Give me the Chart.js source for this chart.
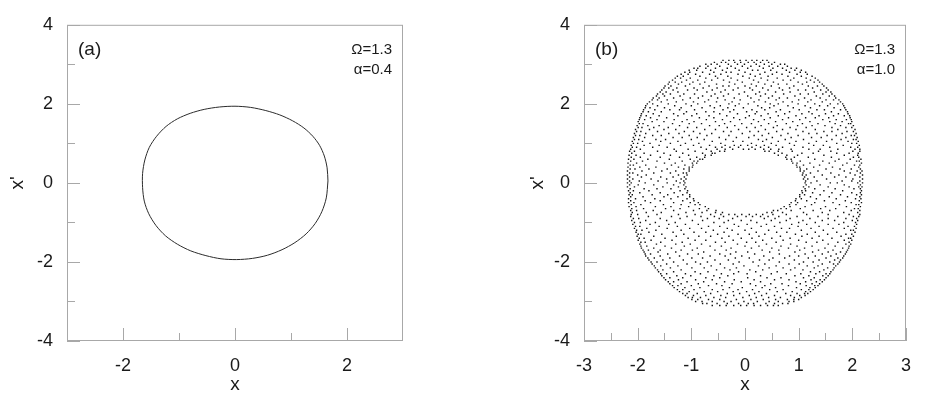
<!DOCTYPE html>
<html>
<head>
<meta charset="utf-8">
<script src="https://cdn.jsdelivr.net/npm/chart.js@4.4.0/dist/chart.umd.min.js"></script>
<style>
  body { margin: 0; background: #fff; width: 925px; height: 403px; position: relative; overflow: hidden; }
  #ca { position: absolute; left: 0; top: 0; }
  #cb { position: absolute; left: 520px; top: 0; }
</style>
</head>
<body>
<canvas id="ca" width="460" height="403"></canvas>
<canvas id="cb" width="405" height="403"></canvas>
<script>
// axis ticks
const yTicks = [-4, -2, 0, 2, 4];
const yMinor = [-3, -1, 1, 3];
const aXTicks = [-2, 0, 2];
const aXMinor = [-1, 1];
const bXTicks = [-3, -2, -1, 0, 1, 2, 3];
const bXMinor = [-2.5, -1.5, -0.5, 0.5, 1.5, 2.5];

// panel (a): limit cycle
const cycleX = [1.66, 1.645, 1.595, 1.51, 1.39, 1.23, 1.03, 0.80, 0.55, 0.28, 0.00, -0.28, -0.55, -0.80, -1.03, -1.23, -1.40, -1.53, -1.61, -1.65,
  -1.65, -1.62, -1.54, -1.41, -1.24, -1.03, -0.79, -0.52, -0.25, 0.03, 0.31, 0.58, 0.84, 1.07, 1.27, 1.43, 1.55, 1.63, 1.66];
const cycleY = [0.05, 0.38, 0.68, 0.95, 1.18, 1.39, 1.57, 1.72, 1.83, 1.91, 1.94, 1.92, 1.86, 1.76, 1.62, 1.43, 1.18, 0.90, 0.58, 0.24,
  -0.12, -0.46, -0.78, -1.08, -1.34, -1.55, -1.72, -1.84, -1.92, -1.94, -1.91, -1.83, -1.69, -1.51, -1.29, -1.03, -0.73, -0.38, 0.05];

// panel (b): torus section dots, one row per x' level: [x', [x ...]]
const torusTop = [
  [3.10, [-0.41, -0.30, -0.21, -0.09, 0.02, 0.13, 0.22, 0.33, 0.41]],
  [3.05, [-0.57, -0.44, -0.36, -0.19, -0.08, 0.06, 0.17, 0.29, 0.44, 0.55]],
  [3.00, [-0.73, -0.63, -0.52, -0.31, -0.14, -0.01, 0.21, 0.36, 0.50, 0.66, 0.74]],
  [2.95, [-0.84, -0.69, -0.47, -0.26, -0.05, 0.11, 0.27, 0.45, 0.61, 0.79]],
  [2.90, [-0.95, -0.88, -0.73, -0.55, -0.33, -0.18, 0.05, 0.34, 0.52, 0.70, 0.86, 0.96]],
  [2.85, [-1.04, -0.90, -0.64, -0.42, -0.11, 0.14, 0.24, 0.48, 0.77, 0.93, 1.05]],
  [2.80, [-1.12, -1.03, -0.79, -0.58, -0.35, -0.26, 0.00, 0.37, 0.59, 0.83, 1.03, 1.13]],
  [2.75, [-1.19, -1.06, -0.92, -0.66, -0.45, -0.13, 0.10, 0.28, 0.51, 0.69, 0.97, 1.16]],
  [2.70, [-1.26, -1.15, -0.84, -0.55, -0.32, -0.04, 0.19, 0.43, 0.80, 1.05, 1.25]],
  [2.65, [-1.30, -1.20, -1.02, -0.73, -0.51, -0.26, 0.08, 0.30, 0.60, 0.91, 1.14, 1.31]],
  [2.60, [-1.35, -1.09, -0.88, -0.62, -0.40, -0.14, 0.16, 0.42, 0.71, 0.85, 1.22, 1.36]],
  [2.55, [-1.41, -1.30, -1.18, -0.97, -0.75, -0.29, -0.05, 0.25, 0.53, 0.99, 1.15, 1.29, 1.39]],
  [2.50, [-1.43, -1.24, -1.03, -0.84, -0.53, -0.19, 0.12, 0.37, 0.62, 0.78, 1.07, 1.44]],
  [2.45, [-1.49, -1.38, -1.11, -0.67, -0.41, -0.30, 0.00, 0.21, 0.49, 0.91, 1.18, 1.35, 1.47]],
  [2.40, [-1.51, -1.42, -1.27, -0.95, -0.78, -0.52, -0.13, 0.09, 0.33, 0.64, 0.83, 1.26, 1.52]],
  [2.35, [-1.55, -1.34, -1.07, -0.89, -0.61, -0.37, -0.22, 0.14, 0.43, 0.70, 0.99, 1.13, 1.41, 1.55]],
  [2.30, [-1.58, -1.47, -1.25, -0.71, -0.45, -0.01, 0.27, 0.57, 0.84, 1.29, 1.51, 1.60]],
  [2.25, [-1.63, -1.53, -1.39, -1.14, -0.94, -0.56, -0.31, -0.11, 0.20, 0.38, 0.72, 1.03, 1.18, 1.45, 1.62]],
  [2.20, [-1.65, -1.50, -1.21, -0.79, -0.63, -0.40, 0.05, 0.29, 0.51, 0.93, 1.33, 1.57, 1.67]],
  [2.15, [-1.71, -1.60, -1.33, -1.02, -0.87, -0.51, -0.20, 0.11, 0.44, 0.64, 0.79, 1.11, 1.40, 1.69]],
  [2.10, [-1.73, -1.63, -1.45, -1.16, -0.68, -0.37, -0.09, 0.26, 0.58, 1.00, 1.23, 1.51, 1.65, 1.75]],
  [2.05, [-1.78, -1.56, -1.28, -0.96, -0.75, -0.53, -0.24, 0.17, 0.38, 0.71, 0.88, 1.17, 1.44, 1.78]],
  [2.00, [-1.82, -1.72, -1.43, -1.10, -0.88, -0.30, -0.11, 0.06, 0.47, 0.62, 0.99, 1.30, 1.59, 1.73, 1.82]],
  [1.95, [-1.85, -1.63, -1.31, -1.00, -0.65, -0.46, -0.18, 0.24, 0.54, 0.80, 1.12, 1.39, 1.54, 1.84]],
  [1.90, [-1.86, -1.77, -1.50, -1.19, -0.80, -0.57, -0.32, -0.03, 0.31, 0.46, 0.90, 1.22, 1.66, 1.86]],
  [1.85, [-1.89, -1.68, -1.40, -1.22, -0.94, -0.41, -0.21, 0.13, 0.37, 0.66, 1.01, 1.34, 1.48, 1.78, 1.88]],
  [1.80, [-1.90, -1.80, -1.56, -1.09, -0.73, -0.58, -0.28, 0.03, 0.22, 0.58, 0.83, 1.19, 1.61, 1.91]],
  [1.75, [-1.93, -1.71, -1.33, -1.14, -0.90, -0.47, -0.14, 0.19, 0.43, 0.74, 1.06, 1.25, 1.50, 1.74, 1.92]],
  [1.70, [-1.94, -1.84, -1.60, -1.25, -0.99, -0.67, -0.34, 0.08, 0.30, 0.62, 0.95, 1.38, 1.65, 1.85, 1.95]],
  [1.65, [-1.96, -1.76, -1.46, -0.85, -0.58, -0.21, 0.01, 0.47, 0.81, 1.13, 1.31, 1.56, 1.96]],
  [1.60, [-1.97, -1.87, -1.64, -1.32, -1.08, -0.72, -0.42, -0.10, 0.16, 0.36, 0.70, 1.02, 1.45, 1.70, 1.89, 1.98]],
  [1.55, [-1.99, -1.73, -1.51, -1.17, -0.95, -0.55, -0.27, 0.25, 0.57, 0.89, 1.21, 1.58, 1.81, 1.99]],
  [1.50, [-1.97, -1.90, -1.35, -1.04, -0.81, -0.38, -0.06, 0.12, 0.44, 0.77, 1.07, 1.36, 1.68, 1.93, 1.97]],
  [1.45, [-2.01, -1.81, -1.60, -1.22, -0.66, -0.48, -0.19, 0.30, 0.60, 0.98, 1.25, 1.49, 1.78, 2.02]],
  [1.40, [-1.99, -1.92, -1.70, -1.43, -1.07, -0.90, -0.33, 0.03, 0.19, 0.53, 0.84, 1.14, 1.62, 1.88, 1.99]],
  [1.35, [-2.04, -1.78, -1.51, -1.29, -0.75, -0.55, -0.12, 0.38, 0.70, 0.95, 1.31, 1.73, 2.05]],
  [1.30, [-2.02, -1.94, -1.63, -1.13, -0.96, -0.40, -0.26, 0.09, 0.25, 0.59, 1.08, 1.47, 1.62, 1.90, 2.02]],
  [1.25, [-2.06, -1.85, -1.42, -1.23, -0.84, -0.62, -0.05, 0.44, 0.80, 1.19, 1.34, 1.81, 2.07]],
  [1.20, [-2.04, -1.96, -1.72, -1.56, -1.04, -0.71, -0.30, 0.17, 0.32, 0.67, 0.99, 1.53, 1.70, 1.98, 2.04]],
  [1.15, [-2.08, -1.87, -1.34, -1.17, -0.89, -0.48, -0.16, 0.07, 0.51, 0.86, 1.24, 1.42, 1.88, 2.09]],
  [1.10, [-2.06, -1.98, -1.66, -1.48, -1.00, -0.76, -0.36, 0.25, 0.40, 0.75, 1.09, 1.62, 1.79, 2.02, 2.07]],
  [1.05, [-2.10, -1.91, -1.57, -1.25, -0.61, -0.22, -0.04, 0.33, 0.62, 0.95, 1.33, 1.52, 1.92, 2.11]],
  [1.00, [-2.08, -2.00, -1.77, -1.39, -1.11, -0.86, -0.45, 0.12, 0.49, 0.83, 1.19, 1.71, 1.99, 2.08]],
  [0.95, [-2.12, -1.88, -1.60, -1.20, -0.96, -0.66, -0.37, -0.20, -0.08, 0.05, 0.21, 0.36, 0.58, 0.92, 1.28, 1.46, 1.83, 2.13]],
  [0.90, [-2.10, -2.02, -1.72, -1.45, -0.82, -0.55, -0.43, -0.28, -0.12, 0.13, 0.29, 0.44, 0.70, 1.08, 1.58, 1.97, 2.10]],
  [0.85, [-2.13, -1.95, -1.32, -1.06, -0.72, -0.52, -0.37, -0.23, -0.03, 0.07, 0.19, 0.35, 0.48, 0.63, 0.86, 1.19, 1.40, 1.73, 2.05, 2.14]]
];
const torusBand = [
  [0.80, [-2.15, -2.06, -1.63, -1.28, -0.93, -0.63, -0.47, -0.38, 0.37, 0.45, 0.62, 0.88, 1.37, 1.60, 2.01, 2.14]],
  [0.75, [-2.11, -1.88, -1.51, -1.16, -0.79, -0.61, -0.56, 0.55, 0.69, 1.06, 1.27, 1.71, 1.94, 2.11]],
  [0.70, [-2.16, -2.03, -1.76, -1.39, -1.05, -0.74, -0.63, 0.62, 0.78, 0.98, 1.47, 1.85, 2.10]],
  [0.65, [-2.12, -1.95, -1.58, -1.22, -0.90, -0.75, 0.76, 0.92, 1.18, 1.61, 2.02, 2.12]],
  [0.60, [-2.17, -2.07, -1.81, -1.41, -1.02, -0.84, -0.79, 0.78, 0.86, 1.30, 1.75, 1.96, 2.16]],
  [0.55, [-2.13, -1.91, -1.64, -1.17, -0.95, -0.88, 0.87, 1.03, 1.45, 1.68, 2.08, 2.13]],
  [0.50, [-2.18, -2.02, -1.50, -1.30, -0.98, -0.90, 0.89, 0.97, 1.21, 1.57, 1.90, 2.17]],
  [0.45, [-2.14, -2.08, -1.85, -1.37, -1.12, -0.97, 0.96, 1.09, 1.39, 1.82, 2.04, 2.14]],
  [0.40, [-2.18, -1.96, -1.66, -1.24, -1.04, -0.98, 0.97, 1.02, 1.28, 1.63, 2.12]],
  [0.35, [-2.14, -2.05, -1.79, -1.45, -1.14, -1.04, 1.03, 1.15, 1.51, 1.77, 1.98, 2.15]],
  [0.30, [-2.19, -1.92, -1.55, -1.29, -1.04, 1.03, 1.10, 1.36, 1.85, 2.09, 2.18]],
  [0.25, [-2.15, -2.09, -1.70, -1.39, -1.15, -1.09, 1.08, 1.22, 1.60, 1.96, 2.15]],
  [0.20, [-2.19, -2.00, -1.84, -1.24, -1.08, 1.07, 1.14, 1.44, 1.75, 2.05, 2.19]],
  [0.15, [-2.15, -1.93, -1.57, -1.34, -1.13, 1.11, 1.29, 1.67, 1.88, 2.14]],
  [0.10, [-2.19, -2.09, -1.75, -1.46, -1.19, -1.10, 1.09, 1.17, 1.52, 2.01, 2.19]],
  [0.05, [-2.15, -1.97, -1.62, -1.28, -1.14, 1.13, 1.34, 1.81, 1.99, 2.14]],
  [0.00, [-2.19, -2.12, -1.86, -1.45, -1.21, -1.12, 1.12, 1.23, 1.59, 1.72, 2.10, 2.19]],
  [-0.05, [-2.15, -1.99, -1.70, -1.33, -1.14, 1.14, 1.40, 1.85, 2.15]],
  [-0.10, [-2.19, -2.06, -1.53, -1.24, -1.10, 1.09, 1.19, 1.55, 1.94, 2.12, 2.18]],
  [-0.15, [-2.14, -1.88, -1.64, -1.38, -1.12, 1.12, 1.30, 1.68, 2.03, 2.15]],
  [-0.20, [-2.17, -2.08, -1.79, -1.21, -1.07, 1.06, 1.13, 1.47, 1.82, 2.17]],
  [-0.25, [-2.14, -1.96, -1.58, -1.32, -1.08, 1.07, 1.26, 1.62, 1.99, 2.15]],
  [-0.30, [-2.16, -2.10, -1.73, -1.44, -1.16, -1.03, 1.02, 1.11, 1.40, 1.78, 2.08, 2.17]],
  [-0.35, [-2.13, -1.90, -1.51, -1.25, -1.03, 1.02, 1.22, 1.57, 1.91, 2.14]],
  [-0.40, [-2.17, -2.04, -1.68, -1.38, -1.08, -0.96, 0.95, 1.05, 1.33, 1.70, 2.06, 2.16]],
  [-0.45, [-2.13, -1.86, -1.58, -1.16, -0.95, 0.94, 1.15, 1.48, 1.87, 2.13]],
  [-0.50, [-2.17, -2.07, -1.76, -1.33, -1.02, -0.87, 0.86, 0.98, 1.30, 1.64, 1.98, 2.17]],
  [-0.55, [-2.12, -1.94, -1.52, -1.19, -0.93, -0.84, 0.83, 0.95, 1.24, 1.76, 2.07, 2.12]],
  [-0.60, [-2.16, -2.03, -1.67, -1.38, -1.05, -0.74, 0.73, 0.84, 1.12, 1.50, 1.89, 2.15]],
  [-0.65, [-2.11, -1.89, -1.48, -1.21, -0.85, -0.68, 0.67, 0.77, 1.03, 1.41, 1.69, 2.04, 2.11]],
  [-0.70, [-2.13, -2.02, -1.71, -1.33, -0.96, -0.71, -0.54, 0.53, 0.61, 0.86, 1.27, 1.58, 1.98, 2.14]],
  [-0.75, [-2.10, -1.84, -1.56, -1.10, -0.80, -0.55, -0.42, 0.41, 0.50, 0.70, 1.09, 1.44, 1.84, 2.10]],
  [-0.80, [-2.12, -2.00, -1.64, -1.24, -0.93, -0.64, -0.45, -0.30, -0.19, -0.06, 0.08, 0.21, 0.33, 0.52, 0.77, 1.15, 1.55, 1.94, 2.14]]
];
const torusBottom = [
  [-0.85, [-2.13, -1.80, -1.37, -1.08, -0.82, -0.57, -0.40, -0.14, 0.02, 0.14, 0.29, 0.43, 0.63, 0.97, 1.36, 1.73, 2.02, 2.12]],
  [-0.90, [-2.08, -1.98, -1.58, -1.21, -0.70, -0.48, -0.23, 0.36, 0.56, 0.84, 1.21, 1.55, 1.88, 2.08]],
  [-0.95, [-2.11, -1.85, -1.46, -0.98, -0.79, -0.31, -0.07, 0.11, 0.49, 0.77, 1.08, 1.44, 1.67, 2.00, 2.10]],
  [-1.00, [-2.06, -1.95, -1.67, -1.30, -0.58, -0.39, 0.22, 0.65, 1.00, 1.31, 1.84, 2.06]],
  [-1.05, [-2.09, -1.77, -1.42, -1.11, -0.87, -0.20, 0.04, 0.40, 0.87, 1.15, 1.55, 1.75, 2.08]],
  [-1.10, [-2.04, -1.96, -1.60, -1.26, -0.68, -0.47, -0.12, 0.30, 0.55, 0.99, 1.38, 1.92, 2.04]],
  [-1.15, [-2.06, -1.83, -1.45, -1.03, -0.81, -0.33, 0.12, 0.68, 0.83, 1.23, 1.64, 1.85, 2.07]],
  [-1.20, [-2.02, -1.92, -1.66, -1.19, -0.59, -0.24, 0.00, 0.44, 1.05, 1.46, 1.97, 2.02]],
  [-1.25, [-2.03, -1.79, -1.34, -0.95, -0.73, -0.39, 0.21, 0.59, 0.78, 1.31, 1.71, 2.05]],
  [-1.30, [-1.99, -1.94, -1.55, -1.14, -0.51, -0.13, 0.08, 0.37, 0.94, 1.16, 1.54, 1.88, 1.99]],
  [-1.35, [-2.01, -1.70, -1.28, -0.86, -0.64, -0.30, 0.26, 0.66, 1.06, 1.38, 1.79, 2.02]],
  [-1.40, [-1.97, -1.88, -1.49, -1.06, -0.43, -0.07, 0.13, 0.50, 0.84, 1.25, 1.62, 1.93, 1.97]],
  [-1.45, [-1.99, -1.75, -1.36, -0.93, -0.73, -0.22, 0.33, 0.71, 1.00, 1.45, 1.85, 1.99]],
  [-1.50, [-1.94, -1.86, -1.57, -1.17, -0.55, -0.37, 0.03, 0.20, 0.58, 1.14, 1.34, 1.73, 1.94]],
  [-1.55, [-1.96, -1.65, -1.29, -1.02, -0.81, -0.14, 0.40, 0.85, 1.55, 1.88, 1.97]],
  [-1.60, [-1.94, -1.83, -1.49, -1.13, -0.65, -0.44, 0.00, 0.26, 0.67, 0.97, 1.25, 1.68, 1.94]],
  [-1.65, [-1.93, -1.70, -1.37, -0.89, -0.26, 0.12, 0.50, 0.81, 1.11, 1.49, 1.82, 1.93]],
  [-1.70, [-1.90, -1.80, -1.58, -1.19, -0.98, -0.56, -0.35, 0.32, 0.63, 1.02, 1.37, 1.64, 1.91]],
  [-1.75, [-1.88, -1.62, -1.29, -0.77, -0.17, 0.05, 0.46, 0.93, 1.26, 1.55, 1.78, 1.89]],
  [-1.80, [-1.86, -1.76, -1.44, -1.07, -0.87, -0.47, -0.27, 0.18, 0.64, 1.12, 1.44, 1.70, 1.87]],
  [-1.85, [-1.85, -1.58, -1.22, -0.65, -0.37, -0.06, 0.35, 0.83, 1.00, 1.31, 1.60, 1.84]],
  [-1.90, [-1.81, -1.69, -1.40, -0.99, -0.79, -0.18, 0.08, 0.52, 0.74, 1.18, 1.51, 1.73, 1.82]],
  [-1.95, [-1.79, -1.53, -1.15, -0.56, -0.31, 0.27, 0.45, 0.92, 1.38, 1.67, 1.78]],
  [-2.00, [-1.75, -1.64, -1.33, -0.92, -0.70, -0.11, 0.15, 0.64, 1.09, 1.27, 1.58, 1.76]],
  [-2.05, [-1.73, -1.46, -1.08, -0.83, -0.46, -0.22, 0.37, 0.82, 1.01, 1.44, 1.65, 1.73]],
  [-2.10, [-1.69, -1.57, -1.25, -0.63, -0.02, 0.25, 0.58, 1.16, 1.36, 1.69]],
  [-2.15, [-1.67, -1.39, -0.99, -0.76, -0.38, -0.16, 0.45, 0.71, 0.93, 1.29, 1.54, 1.66]],
  [-2.20, [-1.63, -1.53, -1.19, -0.53, -0.28, 0.09, 0.33, 0.85, 1.08, 1.47, 1.64]],
  [-2.25, [-1.61, -1.33, -0.93, -0.69, -0.12, 0.20, 0.60, 1.22, 1.39, 1.60]],
  [-2.30, [-1.57, -1.46, -1.11, -0.83, -0.44, -0.21, 0.04, 0.49, 0.77, 1.04, 1.32, 1.51, 1.58]],
  [-2.35, [-1.55, -1.27, -1.01, -0.58, -0.32, 0.29, 0.93, 1.19, 1.45, 1.55]],
  [-2.40, [-1.51, -1.40, -1.16, -0.73, -0.47, 0.05, 0.41, 0.67, 1.09, 1.29, 1.51]],
  [-2.45, [-1.48, -1.24, -0.92, -0.61, -0.20, 0.17, 0.55, 0.82, 1.23, 1.40, 1.48]],
  [-2.50, [-1.43, -1.33, -1.08, -0.77, -0.38, -0.07, 0.29, 0.95, 1.13, 1.33, 1.44]],
  [-2.55, [-1.40, -1.19, -0.87, -0.53, -0.24, 0.10, 0.48, 0.69, 1.03, 1.25, 1.39]],
  [-2.60, [-1.35, -1.25, -1.00, -0.68, -0.43, 0.20, 0.37, 0.81, 1.14, 1.30, 1.36]],
  [-2.65, [-1.32, -1.12, -0.84, -0.29, -0.05, 0.32, 0.57, 0.96, 1.21, 1.31]],
  [-2.70, [-1.26, -1.16, -0.95, -0.61, -0.41, -0.13, 0.14, 0.46, 0.71, 1.05, 1.19, 1.27]],
  [-2.75, [-1.22, -1.04, -0.76, -0.51, -0.22, 0.03, 0.26, 0.60, 0.88, 1.13, 1.22]],
  [-2.80, [-1.16, -1.08, -0.89, -0.64, -0.33, -0.10, 0.18, 0.40, 0.76, 0.97, 1.11, 1.17]],
  [-2.85, [-1.11, -0.96, -0.73, -0.45, -0.21, 0.08, 0.31, 0.55, 0.85, 1.02, 1.12]],
  [-2.90, [-1.06, -0.98, -0.83, -0.58, -0.36, -0.04, 0.21, 0.44, 0.66, 0.92, 1.05]],
  [-2.95, [-0.99, -0.88, -0.68, -0.47, -0.16, 0.11, 0.34, 0.57, 0.79, 0.91, 1.00]],
  [-3.00, [-0.92, -0.80, -0.61, -0.39, -0.26, -0.02, 0.23, 0.45, 0.62, 0.82, 0.91]],
  [-3.05, [-0.79, -0.71, -0.52, -0.33, -0.12, 0.06, 0.16, 0.39, 0.55, 0.70, 0.80]],
  [-3.10, [-0.61, -0.47, -0.35, -0.21, -0.08, 0.03, 0.17, 0.29, 0.42, 0.53, 0.62]]
];

const textColor = '#1a1a1a';
const frameColor = '#a8a8a8';
const fontFamily = '"Liberation Sans", Arial, Helvetica, sans-serif';

// frame, inward ticks and the corner notes
const panelDeco = {
  id: 'panelDeco',
  afterDraw(chart, args, o) {
    const { ctx, chartArea: a } = chart;
    const { x, y } = chart.scales;
    ctx.save();
    ctx.strokeStyle = frameColor;
    ctx.lineWidth = 1;
    ctx.strokeRect(a.left + 0.5, a.top + 0.5, a.right - a.left - 1, a.bottom - a.top - 1);
    ctx.beginPath();
    const xt = (vals, len) => vals.forEach(v => {
      const px = Math.round(x.getPixelForValue(v)) + 0.5;
      ctx.moveTo(px, a.bottom); ctx.lineTo(px, a.bottom - len);
    });
    const yt = (vals, len) => vals.forEach(v => {
      const py = Math.round(y.getPixelForValue(v)) + 0.5;
      ctx.moveTo(a.left, py); ctx.lineTo(a.left + len, py);
    });
    xt(o.xMajor, 13); xt(o.xMinor, 8);
    yt(yTicks, 13); yt(yMinor, 8);
    ctx.stroke();

    ctx.fillStyle = textColor;
    ctx.textBaseline = 'middle';
    ctx.textAlign = 'left';
    ctx.font = '19px ' + fontFamily;
    ctx.fillText(o.tag, a.left + 11, a.top + 25);
    ctx.textAlign = 'right';
    ctx.font = '15px ' + fontFamily;
    ctx.fillText(o.notes[0], a.right - 11, a.top + 25);
    ctx.fillText(o.notes[1], a.right - 11, a.top + 45);
    ctx.restore();
  }
};

function panel(id, datasets, xTicks, deco, yWidth, padRight) {
  return new Chart(document.getElementById(id), {
    type: 'scatter',
    data: { datasets: datasets },
    options: {
      responsive: false,
      animation: false,
      devicePixelRatio: 1,
      layout: { padding: { left: 0, right: padRight, top: 17, bottom: 0 } },
      plugins: { legend: { display: false }, tooltip: { enabled: false }, panelDeco: deco },
      scales: {
        x: {
          type: 'linear', min: -3, max: 3,
          grid: { display: false, drawTicks: false }, border: { display: false },
          afterBuildTicks: s => { s.ticks = xTicks.map(v => ({ value: v })); },
          afterFit: s => { s.height = 62; },
          ticks: { font: { family: fontFamily, size: 18 }, color: textColor, padding: 14, maxRotation: 0, autoSkip: false },
          title: { display: true, text: 'x', font: { family: fontFamily, size: 19 }, color: textColor, padding: { top: 0, bottom: 7 } }
        },
        y: {
          type: 'linear', min: -4, max: 4,
          grid: { display: false, drawTicks: false }, border: { display: false },
          afterBuildTicks: s => { s.ticks = yTicks.map(v => ({ value: v })); },
          afterFit: s => { s.width = yWidth; },
          ticks: { font: { family: fontFamily, size: 18 }, color: textColor, padding: 14, autoSkip: false },
          title: { display: true, text: "x'", font: { family: fontFamily, size: 19 }, color: textColor, padding: { top: 6, bottom: 0 } }
        }
      }
    },
    plugins: [panelDeco]
  });
}

const cyclePoints = cycleX.map((v, i) => ({ x: v, y: cycleY[i] }));
panel('ca', [{
  data: cyclePoints, showLine: true, tension: 0.3, borderColor: '#2b2b2b', borderWidth: 1,
  pointRadius: 0, fill: false
}], aXTicks, { xMajor: aXTicks, xMinor: aXMinor, tag: '(a)', notes: ['\u03A9=1.3', '\u03B1=0.4'] }, 67, 57);

const torusPoints = torusTop.concat(torusBand, torusBottom)
  .flatMap(([yv, xs]) => xs.map(xv => ({ x: xv, y: yv })));
panel('cb', [{
  data: torusPoints, pointStyle: 'rect', pointRadius: 1.0, borderWidth: 0,
  backgroundColor: '#111', pointBackgroundColor: '#111'
}], bXTicks, { xMajor: bXTicks, xMinor: bXMinor, tag: '(b)', notes: ['\u03A9=1.3', '\u03B1=1.0'] }, 64, 9);
</script>
</body>
</html>
